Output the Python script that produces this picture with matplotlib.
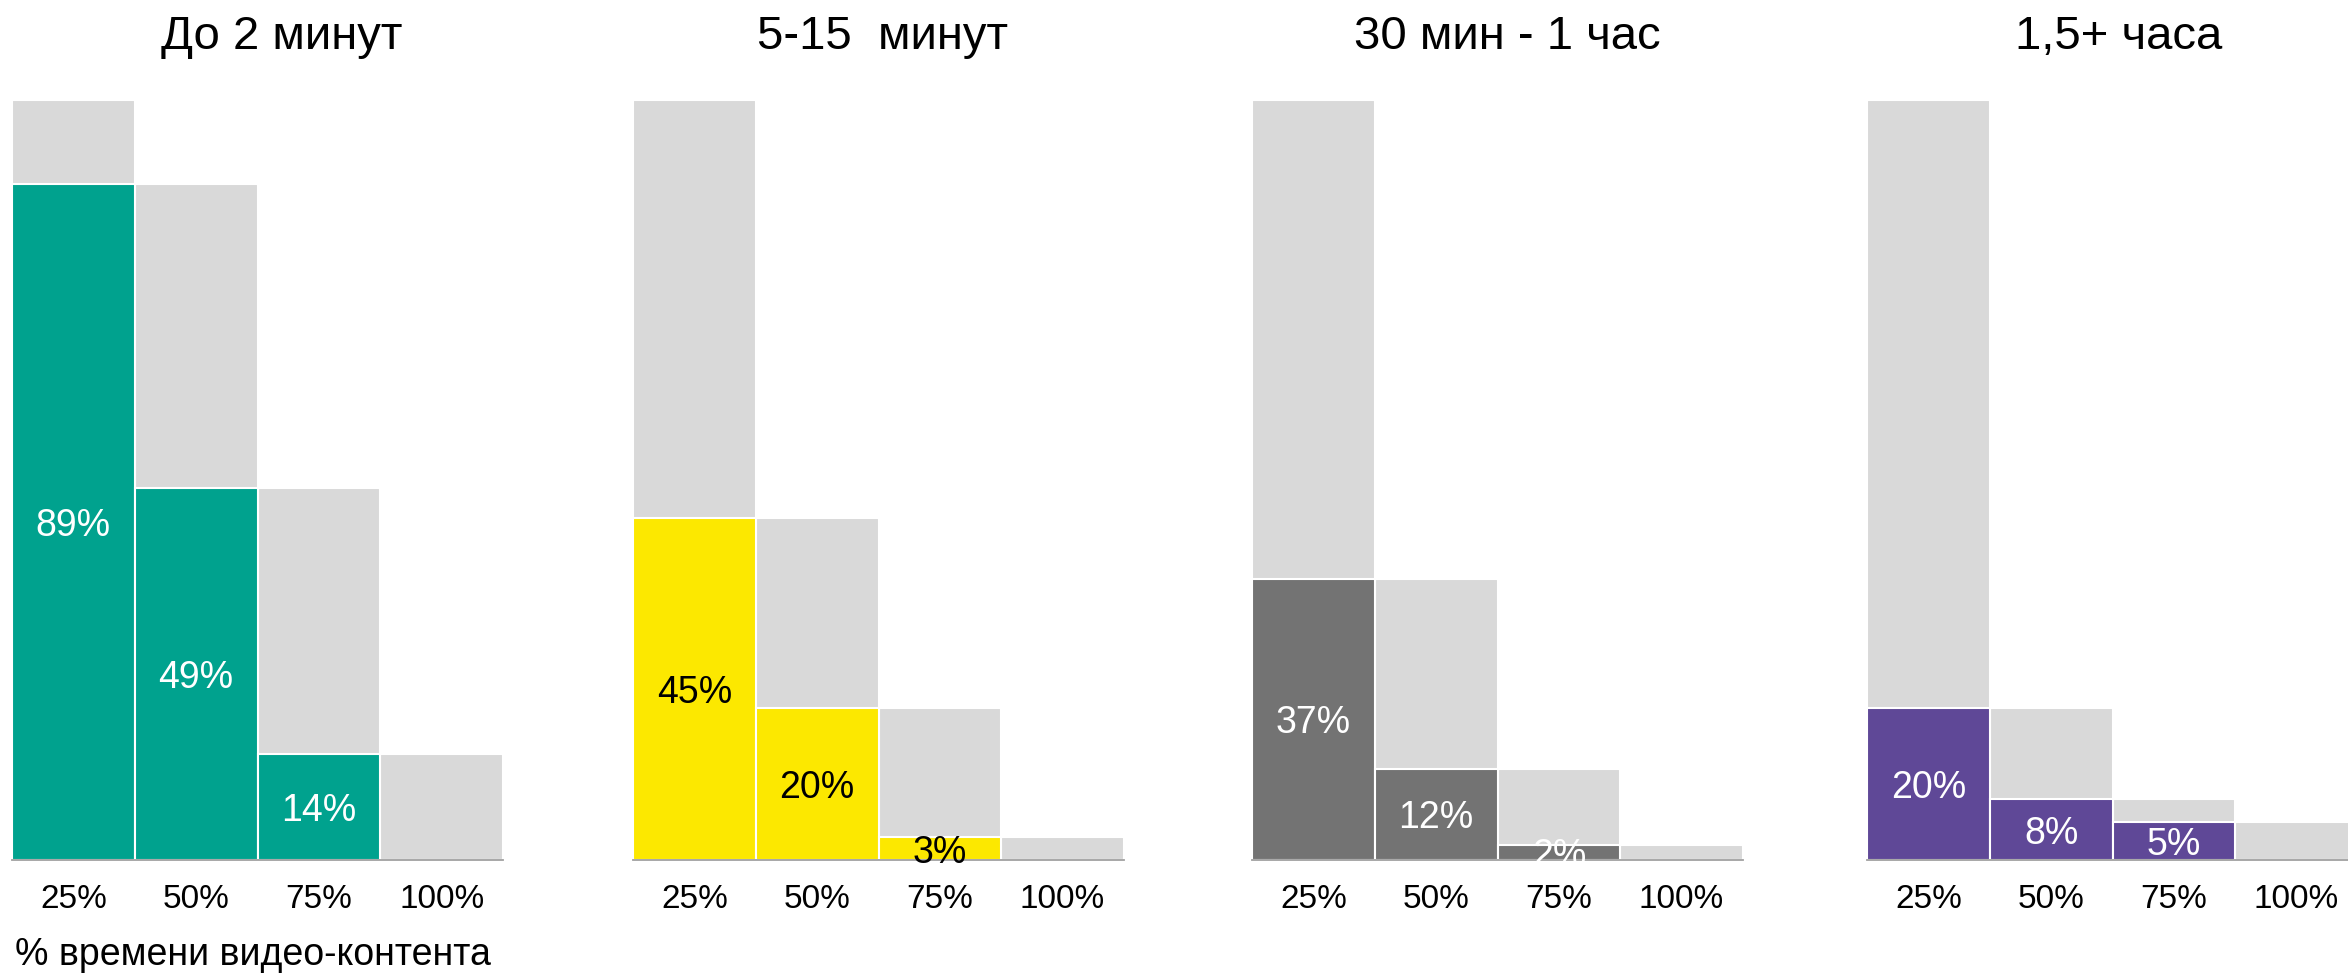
import matplotlib
matplotlib.use("Agg")
import matplotlib.pyplot as plt

plt.rcParams['font.family'] = ['Liberation Sans', 'DejaVu Sans']

categories = ['25%', '50%', '75%', '100%']
titles = ['До 2 минут', '5-15  минут', '30 мин - 1 час', '1,5+ часа']
xlabel = '% времени видео-контента'

# share of viewers reaching each point (coloured) and the previous point (grey)
watched_short = [89, 49, 14, 0]
watched_mid = [45, 20, 3, 0]
watched_hour = [37, 12, 2, 0]
watched_long = [20, 8, 5, 0]

previous_short = [100, 89, 49, 14]
previous_mid = [100, 45, 20, 3]
previous_hour = [100, 37, 12, 2]
previous_long = [100, 20, 8, 5]

series = [watched_short, watched_mid, watched_hour, watched_long]
backgrounds = [previous_short, previous_mid, previous_hour, previous_long]
colors = ['#00A28E', '#FCE800', '#737373', '#5F4897']
label_colors = ['white', 'black', 'white', 'white']
title_x = [0.55, 0.509, 0.519, 0.513]

W, H = 2348, 975
fig = plt.figure(figsize=(W / 100, H / 100), dpi=100)

lefts_px = [12, 633, 1252, 1867]
width_px = 491
bottom_px = 860
top_px = 100

for i in range(4):
    ax = fig.add_axes([lefts_px[i] / W, (H - bottom_px) / H,
                       width_px / W, (bottom_px - top_px) / H])
    x = list(range(len(categories)))
    ax.bar(x, backgrounds[i], width=1.0, color='#D9D9D9',
           edgecolor='white', linewidth=1.5, zorder=1)
    ax.bar(x, series[i], width=1.0, color=colors[i],
           edgecolor='white', linewidth=1.5, zorder=2)
    for xi, v in zip(x, series[i]):
        if v > 0:
            ax.text(xi, v / 2, f'{v}%', ha='center', va='center_baseline',
                    fontsize=27, color=label_colors[i], zorder=4)
    ax.set_xlim(-0.5, 3.5)
    ax.set_ylim(0, 100)
    ax.set_xticks(x)
    ax.set_xticklabels(categories, fontsize=24)
    ax.tick_params(axis='x', length=0, pad=17)
    ax.set_yticks([])
    for s in ['top', 'left', 'right']:
        ax.spines[s].set_visible(False)
    ax.spines['bottom'].set_color('#A0A0A0')
    ax.spines['bottom'].set_linewidth(1.3)
    ax.spines['bottom'].set_zorder(3)
    ax.patch.set_visible(False)
    ax.text(title_x[i], 1 + (top_px - 49) / (bottom_px - top_px), titles[i],
            transform=ax.transAxes, ha='center', va='baseline',
            fontsize=34, color='black')

fig.text(15 / W, (H - 965) / H, xlabel, ha='left', va='baseline',
         fontsize=27, color='black')

fig.savefig('out.png', dpi=100, facecolor='white')
